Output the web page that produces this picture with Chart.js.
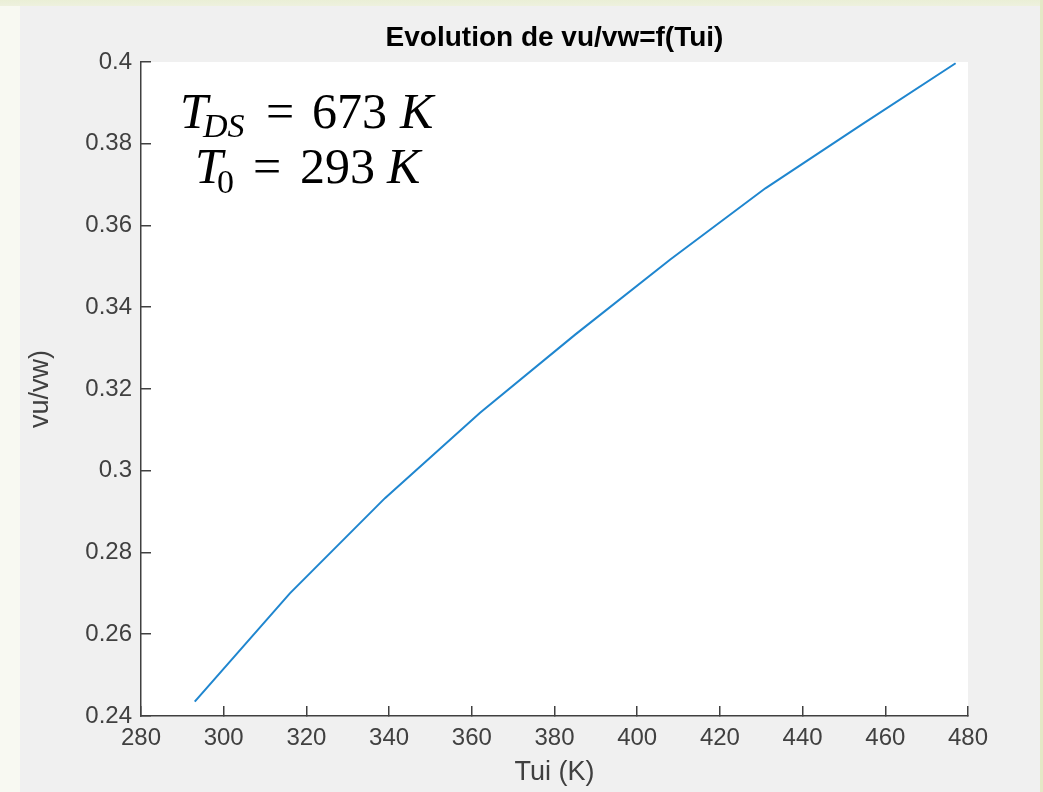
<!DOCTYPE html>
<html lang="fr">

<head>
    <meta charset="UTF-8">
    <title>Evolution de vu/vw=f(Tui)</title>
    <script src="https://cdn.jsdelivr.net/npm/chart.js"></script>
    <style>
        html, body {
            margin: 0;
            padding: 0;
        }

        body {
            width: 1043px;
            height: 792px;
            overflow: hidden;
            position: relative;
            background: linear-gradient(to bottom, #eaefd6 0px, #eef1de 6px, #f8f9f2 6px);
        }

        .bord-droit {
            position: absolute;
            left: 1040px;
            top: 0;
            width: 3px;
            height: 792px;
            background: #e3e9c6;
        }

        .fond-figure {
            position: absolute;
            left: 20px;
            top: 6px;
            width: 1020px;
            height: 786px;
            background: #f0f0f0;
        }
    </style>
</head>

<body>
    <div class="bord-droit"></div>
    <div class="fond-figure">
        <canvas id="graphique"></canvas>
    </div>
</body>

</html>
<script>

    // valeurs
    const tui = [293, 316, 339, 362, 385, 408, 431, 454, 477];
    const rapport = [0.2435, 0.2700, 0.2933, 0.3142, 0.3333, 0.3517, 0.3691, 0.3845, 0.3997];

    const xMin = 280, xMax = 480, xPas = 20;
    const yMin = 0.24, yMax = 0.4, yPas = 0.02;

    const axe = '#404040';

    // texte T_DS = 673 K / T_0 = 293 K
    const annotations = {
        id: 'annotations',
        afterDraw(chart) {
            const ctx = chart.ctx;
            const ital = (s) => 'italic ' + s + 'px "Liberation Serif", "DejaVu Serif", serif';
            const droit = (s) => s + 'px "Liberation Serif", "DejaVu Serif", serif';
            const morceaux = [
                [ital(50), 'T', 160, 122],
                [ital(34), 'DS', 183, 131],
                [droit(50), '=', 246, 122],
                [droit(50), '673', 292, 122],
                [ital(50), 'K', 380, 122],
                [ital(50), 'T', 175, 177],
                [droit(34), '0', 197, 187],
                [droit(50), '=', 233, 177],
                [droit(50), '293', 280, 177],
                [ital(50), 'K', 367, 177]
            ];
            ctx.save();
            ctx.fillStyle = '#000';
            ctx.textAlign = 'left';
            ctx.textBaseline = 'alphabetic';
            morceaux.forEach(m => {
                ctx.font = m[0];
                ctx.fillText(m[1], m[2], m[3]);
            });
            ctx.restore();
        }
    };

    const ctx = document.getElementById('graphique');

    new Chart(ctx, {
        type: 'line',
        data: {
            datasets: [{
                label: 'vu/vw',
                data: tui.map((t, i) => ({ x: t, y: rapport[i] })),
                borderColor: '#1f86cf',
                borderWidth: 2,
                pointRadius: 0,
                tension: 0,
                fill: false
            }]
        },
        options: {
            responsive: true,
            maintainAspectRatio: false,
            animation: false,
            layout: {
                padding: { left: 0, right: 72, top: 0, bottom: 0 }
            },
            scales: {
                x: {
                    type: 'linear',
                    min: xMin,
                    max: xMax,
                    afterFit: s => { s.height = 76; },
                    ticks: {
                        stepSize: xPas,
                        color: axe,
                        padding: 18,
                        maxRotation: 0,
                        font: { family: '"Liberation Sans", Arial, sans-serif', size: 24 }
                    },
                    grid: {
                        drawOnChartArea: false,
                        tickLength: -10,
                        color: axe,
                        lineWidth: 1.5
                    },
                    border: { color: axe, width: 1.5 },
                    title: {
                        display: true,
                        text: 'Tui (K)',
                        color: axe,
                        padding: { top: 0, bottom: 3 },
                        font: { family: '"Liberation Sans", Arial, sans-serif', size: 27 }
                    }
                },
                y: {
                    min: yMin,
                    max: yMax,
                    afterFit: s => { s.width = 121; },
                    ticks: {
                        stepSize: yPas,
                        color: axe,
                        padding: 19,
                        callback: v => String(+v.toFixed(2)),
                        font: { family: '"Liberation Sans", Arial, sans-serif', size: 24 }
                    },
                    grid: {
                        drawOnChartArea: false,
                        tickLength: -10,
                        color: axe,
                        lineWidth: 1.5
                    },
                    border: { color: axe, width: 1.5 },
                    title: {
                        display: true,
                        text: 'vu/vw)',
                        color: axe,
                        padding: { top: 4, bottom: 0 },
                        font: { family: '"Liberation Sans", Arial, sans-serif', size: 27 }
                    }
                }
            },
            plugins: {
                legend: { display: false },
                tooltip: { enabled: false },
                title: {
                    display: true,
                    fullSize: false,
                    text: 'Evolution de vu/vw=f(Tui)',
                    color: '#000',
                    padding: { top: 15, bottom: 7.4 },
                    font: { family: '"Liberation Sans", Arial, sans-serif', size: 28, weight: 'bold' }
                }
            }
        },
        plugins: [annotations, {
            id: 'fondBlanc',
            beforeDraw(chart) {
                const a = chart.chartArea;
                chart.ctx.save();
                chart.ctx.fillStyle = '#ffffff';
                chart.ctx.fillRect(a.left, a.top, a.right - a.left, a.bottom - a.top);
                chart.ctx.restore();
            }
        }]
    });
</script>
